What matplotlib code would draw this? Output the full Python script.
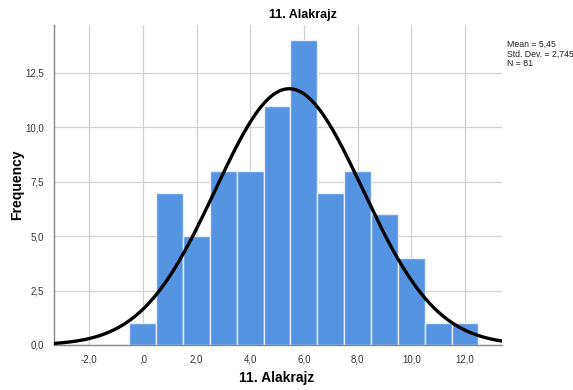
import numpy as np
import matplotlib
matplotlib.use("Agg")
import matplotlib.pyplot as plt

# Data
bin_centers = [0, 1, 2, 3, 4, 5, 6, 7, 8, 9, 10, 11, 12]
counts = [1, 7, 5, 8, 8, 11, 14, 7, 8, 6, 4, 1, 1]
mean = 5.45
std = 2.745
n = 81
bin_width = 1.0
x_ticks = [-2, 0, 2, 4, 6, 8, 10, 12]
x_tick_labels = ["-2,0", ",0", "2,0", "4,0", "6,0", "8,0", "10,0", "12,0"]
y_ticks = [0, 2.5, 5, 7.5, 10, 12.5]
y_tick_labels = ["0,0", "2,5", "5,0", "7,5", "10,0", "12,5"]
title = "11. Alakrajz"

plt.rcParams['font.family'] = ['Liberation Sans', 'DejaVu Sans']

fig = plt.figure(figsize=(5.73, 3.90), dpi=100)
ax = fig.add_axes([53.5/573, 1-345/390, (501.7-53.5)/573, (345-25)/390])

ax.bar(bin_centers, counts, width=bin_width, color='#5594e2',
       edgecolor='#e8eef8', linewidth=1.0, zorder=2)

xmin, xmax = -3.33, 13.37
xs = np.linspace(xmin, xmax, 400)
ys = n * bin_width / (std * np.sqrt(2*np.pi)) * np.exp(-0.5*((xs-mean)/std)**2)
ax.plot(xs, ys, color='black', lw=2.4, zorder=3)

ax.set_xlim(xmin, xmax)
ax.set_ylim(0, 14.7)
ax.set_xticks(x_ticks)
ax.set_xticklabels(x_tick_labels)
ax.set_yticks(y_ticks)
ax.set_yticklabels(y_tick_labels)
ax.tick_params(length=0, labelsize=7, colors='#333333', pad=7)
ax.grid(True, color='#d0d0d0', lw=0.9, zorder=0)
ax.set_axisbelow(True)
for s in ['top', 'right']:
    ax.spines[s].set_visible(False)
for s in ['left', 'bottom']:
    ax.spines[s].set_color('#888888')
    ax.spines[s].set_linewidth(1.0)

fig.text(277/573, 1 - 378/390, title, ha='center', va='center',
         fontsize=10, fontweight='bold')
fig.text(17/573, 1 - 185/390, "Frequency", ha='center', va='center',
         rotation=90, fontsize=10, fontweight='bold')
fig.text(303/573, 1 - 15/390, title, ha='center', va='center',
         fontsize=9, fontweight='bold')
fig.text(507/573, 1 - 40/390,
         "Mean = 5,45\nStd. Dev. = 2,745\nN = 81",
         ha='left', va='top', fontsize=6.3, linespacing=1.05, color='#222222')

fig.savefig("out.png", dpi=100)
